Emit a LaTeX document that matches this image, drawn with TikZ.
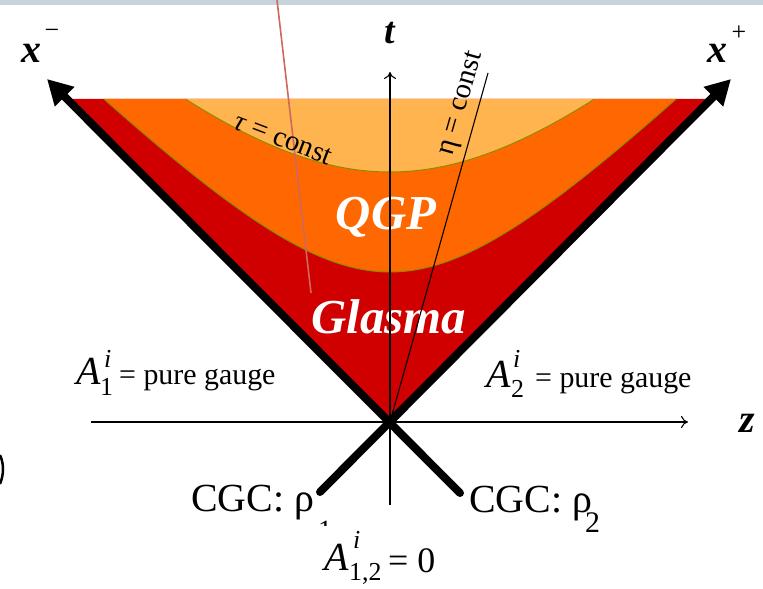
\documentclass[tikz,border=0pt]{standalone}
\usepackage{fontspec}
\setmainfont{Liberation Serif}
\usetikzlibrary{arrows.meta}
\definecolor{glasmared}{RGB}{208,0,0}
\definecolor{qgporange}{RGB}{255,104,0}
\definecolor{lightorange}{RGB}{255,180,80}
\definecolor{olivel}{RGB}{140,140,0}
\definecolor{barg}{RGB}{200,210,218}
\definecolor{salmonl}{RGB}{205,105,90}
\tikzset{
  lbl/.style={inner sep=0pt, anchor=base west},
  fs/.style={font=\fontsize{#1}{#1}\selectfont},
  fsi/.style={font=\fontsize{#1}{#1}\selectfont\itshape},
  fsbi/.style={font=\fontsize{#1}{#1}\selectfont\bfseries\itshape},
  thinax/.style={line width=1.1bp, -{To[length=7bp,width=12bp]}},
  cone/.style={line width=8bp, line cap=round, -{Triangle[length=25bp,width=26bp]}},
  hyp/.style={olivel, line width=1bp},
}
\begin{document}
\begin{tikzpicture}[x=1bp,y=-1bp]
\useasboundingbox (0,0) rectangle (763,589);
\fill[barg] (0,0) rectangle (763,5);
\coordinate (O) at (390,422);
% regions
\fill[glasmared] (O) -- (67,99) -- (713,99) -- cycle;
\fill[qgporange] plot[domain=-2.862:2.862,samples=90] ({390+100*\x},{422-100*sqrt(2.25+\x*\x)}) -- cycle;
\fill[lightorange] plot[domain=-2.043:2.043,samples=90] ({390+100*\x},{422-100*sqrt(6.25+\x*\x)}) -- cycle;
\draw[hyp] plot[domain=-2.862:2.862,samples=90] ({390+100*\x},{422-100*sqrt(2.25+\x*\x)});
\draw[hyp] plot[domain=-2.043:2.043,samples=90] ({390+100*\x},{422-100*sqrt(6.25+\x*\x)});
% big labels inside
\node[fsbi=49, text=white, inner sep=0pt] (qgp) at (386,217) {QGP};
\node[fsbi=49, text=white, inner sep=0pt] (glasma) at (389,317) {Glasma};
% axes
\coordinate (tb) at (390,505);
\coordinate (tt) at (390,72);
\coordinate (zl) at (91,422);
\coordinate (zr) at (688,422);
\draw[thinax] (tb) -- (tt);
\draw[thinax] (zl) -- (zr);
\coordinate (etaend) at (488,73);
\draw[line width=1.1bp] (O) -- (etaend);
\coordinate (sa) at (277,0);
\coordinate (sb) at (311,293);
\draw[salmonl, line width=1.6bp] (sa) -- (sb);
% light cone
\coordinate (c1) at (320,492);
\coordinate (c2) at (460,493);
\coordinate (xp) at (731,79);
\coordinate (xm) at (47,79);
\draw[cone] (c1) -- (xp);
\draw[cone] (c2) -- (xm);
% curve labels
\node[fs=29, inner sep=0pt, rotate=-21] (taulbl) at (283,139) {\textit{τ} = const};
\node[fs=29, inner sep=0pt, rotate=74] (etalbl) at (462,104) {η = const};
% axis labels
\node[fsbi=38, inner sep=0pt] (tlbl) at (390,33) {t};
\node[fsbi=40, inner sep=0pt] (zlbl) at (747,423) {z};
\node[fsbi=40, inner sep=0pt] (xmlbl) at (31,53) {x};
\node[fs=26, inner sep=0pt] (xmsup) at (52,34) {−};
\node[fsbi=40, inner sep=0pt] (xplbl) at (717,53) {x};
\node[fs=26, inner sep=0pt] (xpsup) at (739,33) {+};
% left gauge label
\node[lbl, fsi=40] (A1) at (76,384) {A};
\node[lbl, fs=26] (A1sub) at (100,395) {1};
\node[lbl, fsi=26] (A1sup) at (104,367) {i};
\node[lbl, fs=30] (A1txt) at (119,384) {= pure gauge};
% right gauge label
\node[lbl, fsi=40] (A2) at (486,387) {A};
\node[lbl, fs=26] (A2sub) at (511,397) {2};
\node[lbl, fsi=26] (A2sup) at (513,367) {i};
\node[lbl, fs=30] (A2txt) at (535,387) {= pure gauge};
% CGC labels
\node[lbl, fs=40] (cgc1) at (191,511) {CGC: ρ};
\begin{scope}
\clip (310,505) rectangle (335,525);
\node[lbl, fs=28] (cgc1sub) at (318,539) {1};
\end{scope}
\node[lbl, fs=40] (cgc2) at (469,512) {CGC: ρ};
\node[lbl, fs=30] (cgc2sub) at (585,532) {2};
% bottom label
\node[lbl, fsi=40] (A12) at (324,570) {A};
\node[lbl, fsi=26] (A12sup) at (353,548) {i};
\node[lbl, fs=26] (A12sub) at (349,580) {1,2};
\node[lbl, fs=36] (A12txt) at (388,572) {= 0};
% cut-off mark at left edge
\draw[line width=2.5bp] (0,455) .. controls (4,464) and (4,474) .. (0,484);
\end{tikzpicture}
\end{document}
